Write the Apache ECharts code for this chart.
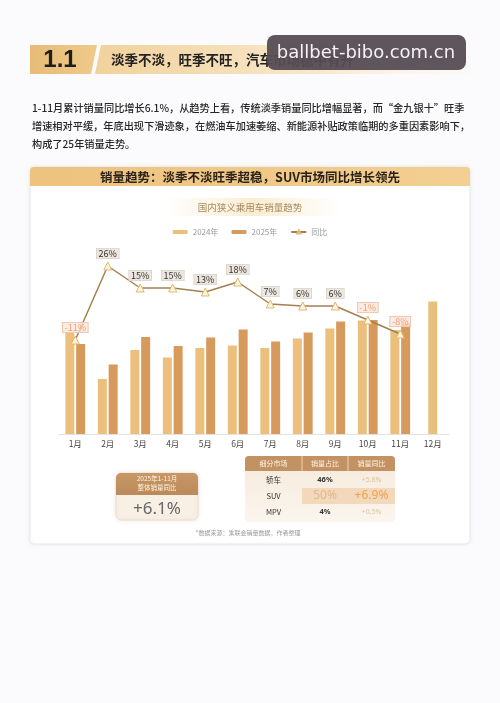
<!DOCTYPE html>
<html><head><meta charset="utf-8">
<script src="https://cdn.jsdelivr.net/npm/echarts@6/dist/echarts.min.js"></script>
<style>html,body{margin:0;padding:0;background:#fbfbfd;}#c{width:500px;height:703px;}</style>
</head><body><div id="c"></div>
<script>
// ---- data ----
const months = ['1月','2月','3月','4月','5月','6月','7月','8月','9月','10月','11月','12月'];
const sales2024 = [203,110,168,153,172,177,172,191,211,227,208,265];   // 万辆 (est.)
const sales2025 = [180,139,194,176,193,209,185,203,225,228,221,null];
const yoy = [-11,26,15,15,13,18,7,6,6,-1,-8,null];
const legendNames = ['2024年','2025年','同比'];
const segNames = ['轿车','SUV','MPV'];
const segShare = ['46%','50%','4%'];
const segYoy = ['+5.8%','+6.9%','+0.5%'];
const tableHead = ['细分市场','销量占比','销量同比'];
const totalYoy = '+6.1%';
const para = [
  '1-11月累计销量同比增长6.1%，从趋势上看，传统淡季销量同比增幅显著，而“金九银十”旺季',
  '增速相对平缓，年底出现下滑迹象，在燃油车加速萎缩、新能源补贴政策临期的多重因素影响下，',
  '构成了25年销量走势。'
];

const FONT = '"Noto Sans CJK SC","Noto Sans",sans-serif';
const chart = echarts.init(document.getElementById('c'), null, {renderer:'canvas'});

// bars for grouped months (Dec drawn on a second, centered axis)
const bar24 = sales2024.map((v,i)=> i===11 ? null : v);
const barDec = sales2024.map((v,i)=> i===11 ? v : null);

const posLabel = {backgroundColor:'#ece6de', borderColor:'#d6cdc2', borderWidth:0.6, color:'#333', fontSize:9, padding:[1,2,0,2]};
const negLabel = {backgroundColor:'rgba(250,228,214,0.75)', borderColor:'#ecb89c', borderWidth:0.6, color:'#f0a07c', fontSize:9, padding:[1,2,0,2]};
const lineData = yoy.map(v => v===null ? null : {value:v, label: v<0 ? negLabel : posLabel});

const g = [];
// header "1.1"
g.push({type:'polygon', shape:{points:[[30,45],[97,45],[91,74],[30,74]]},
  style:{fill:new echarts.graphic.LinearGradient(0,0,1,0,[{offset:0,color:'#e6bc76'},{offset:1,color:'#efca8c'}])}});
g.push({type:'polygon', shape:{points:[[101,45],[470,45],[470,74],[95,74]]},
  style:{fill:new echarts.graphic.LinearGradient(0,0,1,0,[{offset:0,color:'#f1d29c'},{offset:0.6,color:'#f8e8cc'},{offset:1,color:'rgba(252,247,238,0.3)'}])}});
g.push({type:'text', x:60, y:60, style:{text:'1.1', fontSize:24, fontWeight:900, fill:'#1e1e1e', font:'900 24px "DejaVu Sans",sans-serif', align:'center', verticalAlign:'middle'}});
g.push({type:'text', x:111, y:60, style:{text:'淡季不淡，旺季不旺，汽车市场稳中有升', font:'bold 13.5px '+FONT, fill:'#222', verticalAlign:'middle'}});
// watermark
g.push({type:'rect', shape:{x:267,y:35,width:199,height:35,r:8}, style:{fill:'rgba(86,76,84,0.95)'}});
g.push({type:'text', x:366, y:53, style:{text:'ballbet-bibo.com.cn', font:'18px "DejaVu Sans",sans-serif', fill:'#f4f2f4', align:'center', verticalAlign:'middle'}});
// paragraph
para.forEach((t,i)=> g.push({type:'text', x:32, y:108+i*18, style:{text:t, font:'500 10.2px '+FONT, fill:'#262626', verticalAlign:'middle'}}));
// card
g.push({type:'rect', shape:{x:30,y:167,width:440,height:377,r:4}, style:{fill:'#ffffff', stroke:'#e9e9ea', lineWidth:1, shadowBlur:4, shadowColor:'rgba(0,0,0,0.06)'}});
g.push({type:'rect', shape:{x:30,y:167,width:440,height:19,r:[4,4,0,0]},
  style:{fill:new echarts.graphic.LinearGradient(0,0,1,0,[{offset:0,color:'#eec27f'},{offset:0.5,color:'#f0c886'},{offset:1,color:'#f2cf93'}])}});
g.push({type:'text', x:250, y:177, style:{text:'销量趋势：淡季不淡旺季超稳，SUV市场同比增长领先', font:'bold 12.5px '+FONT, fill:'#2a2218', align:'center', verticalAlign:'middle'}});
// chart subtitle band
g.push({type:'rect', shape:{x:165,y:198,width:175,height:18},
  style:{fill:new echarts.graphic.LinearGradient(0,0,1,0,[{offset:0,color:'rgba(250,236,210,0)'},{offset:0.5,color:'rgba(250,234,204,0.9)'},{offset:1,color:'rgba(250,236,210,0)'}])}});
g.push({type:'text', x:250, y:207, style:{text:'国内狭义乘用车销量趋势', font:'9.5px '+FONT, fill:'#a88a5c', align:'center', verticalAlign:'middle'}});

// left summary box
g.push({type:'rect', shape:{x:116,y:473,width:82,height:47,r:5}, style:{fill:'#f8f0e5', stroke:'#eadbc6', lineWidth:0.8, shadowBlur:5, shadowColor:'rgba(150,110,60,0.15)'}});
g.push({type:'rect', shape:{x:116,y:473,width:82,height:22,r:[5,5,0,0]}, style:{fill:new echarts.graphic.LinearGradient(0,0,0,1,[{offset:0,color:'#c79766'},{offset:1,color:'#ba8a5a'}])}});
g.push({type:'text', x:157, y:479, style:{text:'2025年1-11月', font:'6.5px '+FONT, fill:'#fff4e6', align:'center', verticalAlign:'middle'}});
g.push({type:'text', x:157, y:488, style:{text:'整体销量同比', font:'6.5px '+FONT, fill:'#fff4e6', align:'center', verticalAlign:'middle'}});
g.push({type:'text', x:157, y:509, style:{text:totalYoy, font:'17px "Noto Sans",sans-serif', fill:'#666', align:'center', verticalAlign:'middle'}});

// table
const tx=245, tw=150, ty=456, colX=[245,302,348,395];
g.push({type:'rect', shape:{x:tx,y:ty,width:tw,height:66,r:4}, style:{fill:new echarts.graphic.LinearGradient(0,0,0,1,[{offset:0,color:'#f6e9da'},{offset:1,color:'#fbf5ee'}])}});
g.push({type:'rect', shape:{x:tx,y:ty,width:tw,height:15,r:[4,4,0,0]}, style:{fill:'#c39262'}});
g.push({type:'line', shape:{x1:302,y1:ty,x2:302,y2:ty+15}, style:{stroke:'#f3e3cf', lineWidth:0.8}});
g.push({type:'line', shape:{x1:348,y1:ty,x2:348,y2:ty+15}, style:{stroke:'#f3e3cf', lineWidth:0.8}});
g.push({type:'rect', shape:{x:302,y:488,width:93,height:16}, style:{fill:'rgba(240,208,172,0.75)'}});
tableHead.forEach((t,i)=> g.push({type:'text', x:(colX[i]+colX[i+1])/2, y:ty+7.5, style:{text:t, font:'7px '+FONT, fill:'#fff3e4', align:'center', verticalAlign:'middle'}}));
const rowY=[480,496,512];
segNames.forEach((n,i)=>{
  const big = i===1;
  g.push({type:'text', x:273.5, y:rowY[i], style:{text:n, font:'7.5px '+FONT, fill:'#333', align:'center', verticalAlign:'middle'}});
  g.push({type:'text', x:325, y:rowY[i], style:{text:segShare[i], font:(big?'12px ':'bold 7.5px ')+'"Noto Sans",sans-serif', fill: big?'#e3b88e':'#333', align:'center', verticalAlign:'middle'}});
  g.push({type:'text', x:371.5, y:rowY[i], style:{text:segYoy[i], font:(big?'12px ':'7px ')+'"Noto Sans",sans-serif', fill: big?'#f2a150':'#dcc3a6', align:'center', verticalAlign:'middle'}});
});
g.push({type:'text', x:248, y:533, style:{text:'*数据来源：乘联会销量数据，作者整理', font:'6px '+FONT, fill:'#9a9a9a', align:'center', verticalAlign:'middle'}});

chart.setOption({
  animation:false,
  backgroundColor:'#fbfbfd',
  textStyle:{fontFamily:FONT},
  graphic:{elements:g},
  legend:{data:legendNames, top:223, left:'center', itemWidth:15, itemHeight:4, itemGap:13,
    textStyle:{fontSize:8, color:'#9a9a9a'}},
  grid:{left:59, right:51, top:250, bottom:269, containLabel:false},
  xAxis:[
    {type:'category', data:months, axisLine:{lineStyle:{color:'#e2e2e2'}}, axisTick:{show:false},
     axisLabel:{fontSize:8.5, color:'#444', margin:6}},
    {type:'category', data:months, show:false}
  ],
  yAxis:[
    {type:'value', min:0, max:368, show:false, splitLine:{show:false}},
    {type:'value', min:-58, max:34, show:false, splitLine:{show:false}}
  ],
  series:[
    {name:'2024年', type:'bar', data:bar24, barWidth:9, barGap:'20%', itemStyle:{color:'#ecc07c'}},
    {name:'2025年', type:'bar', data:sales2025, barWidth:9, barGap:'20%', itemStyle:{color:'#d59a5c'}},
    {name:'2024年', type:'bar', xAxisIndex:1, data:barDec, barWidth:9, itemStyle:{color:'#e7c17c'}},
    {name:'同比', type:'line', yAxisIndex:1, data:lineData, symbol:'triangle', symbolSize:8,
     lineStyle:{color:'#a3814f', width:1.5}, itemStyle:{color:'#fdf3e0', borderColor:'#e2b96e', borderWidth:1},
     label:{show:true, position:'top', distance:3, formatter:p=>p.value+'%'}, z:5}
  ]
});
</script></body></html>
